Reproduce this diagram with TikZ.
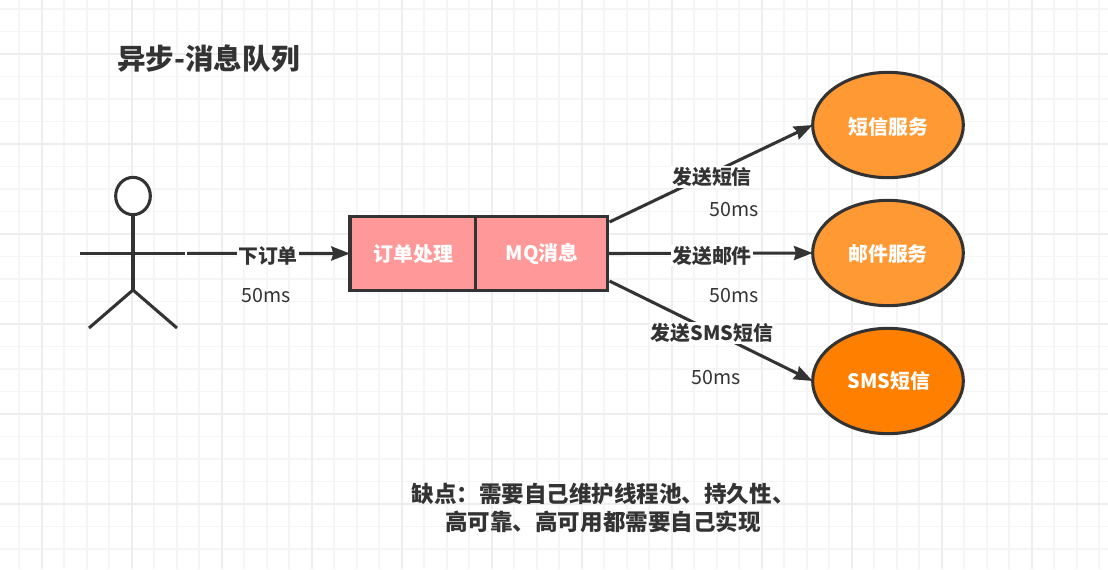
\documentclass[tikz,border=0pt]{standalone}
\usepackage{fontspec}
\setmainfont{Noto Sans CJK SC}
\usetikzlibrary{arrows.meta,shapes.geometric}
\definecolor{ink}{HTML}{333333}
\definecolor{gridminor}{HTML}{F5F5F5}
\definecolor{gridmajor}{HTML}{EEEEEE}
\definecolor{boxred}{HTML}{FF9999}
\definecolor{svcorange}{HTML}{FF9933}
\definecolor{smsorange}{HTML}{FF8000}
\tikzset{
  strokeline/.style={draw=ink,line width=2.3pt},
  flow/.style={strokeline,-{Stealth[length=14pt,width=10.5pt,inset=1.5pt]}},
  boxnode/.style={strokeline,rectangle,fill=boxred,outer sep=0pt,inner sep=0pt,minimum height=56pt,text=white,font=\fontsize{14.9pt}{17pt}\selectfont\bfseries},
  svc/.style={strokeline,ellipse,outer sep=0pt,inner sep=0pt,minimum width=113pt,minimum height=79pt,text=white,font=\fontsize{14.9pt}{17pt}\selectfont\bfseries},
  lab/.style={fill=white,text=ink,inner sep=1pt,font=\fontsize{14.9pt}{17pt}\selectfont\bfseries},
  lat/.style={text=ink,inner sep=0pt,font=\fontsize{14.7pt}{17pt}\selectfont},
  heading/.style={text=ink,inner sep=0pt,font=\fontsize{21.4pt}{25pt}\selectfont\bfseries},
  note/.style={text=ink,inner sep=0pt,align=center,font=\fontsize{16.9pt}{21pt}\selectfont\bfseries},
}
\begin{document}
\begin{tikzpicture}[x=0.75pt,y=-0.75pt]
\useasboundingbox (0,0) rectangle (1108,569);
\fill[white] (0,0) rectangle (1108,569);
% grid
\foreach \k in {0,...,49} {
  \draw[gridminor,line width=1.4pt] ({-3.3+22.5*\k},0) -- ({-3.3+22.5*\k},569);
}
\foreach \k in {0,...,25} {
  \draw[gridminor,line width=1.4pt] (0,{9+22.5*\k}) -- (1108,{9+22.5*\k});
}
\foreach \k in {0,...,12} {
  \draw[gridmajor,line width=1.4pt] ({41.7+90*\k},0) -- ({41.7+90*\k},569);
}
\foreach \k in {0,...,5} {
  \draw[gridmajor,line width=1.4pt] (0,{54+90*\k}) -- (1108,{54+90*\k});
}
% title
\node[heading] (title) at (208.5,59) {异步-消息队列};
% actor
\node[strokeline,fill=white,ellipse,outer sep=0pt,inner sep=0pt,minimum width=26pt,minimum height=28pt] (head) at (133,196) {};
\coordinate (hip) at (133,290);
\coordinate (armL) at (80,253.4);
\coordinate (armR) at (185,253.4);
\coordinate (legL) at (89,328);
\coordinate (legR) at (177,328);
\coordinate (actor) at (187,253.4);
\draw[strokeline] (head.south) -- (hip);
\draw[strokeline] (armL) -- (armR);
\draw[strokeline] (legL) -- (hip) -- (legR);
% boxes
\node[boxnode,minimum width=94.5pt] (order) at (413,253.5) {\hspace{0.7pt}订单处理};
\node[boxnode,minimum width=99pt,xshift=-0.5pt] (mq) at (542,253.5) {\hspace{1pt}MQ消息};
% services
\node[svc,fill=svcorange,text height=14pt,text depth=0pt] (sms) at (888,125) {\hspace{1pt}短信服务};
\node[svc,fill=svcorange,text height=12.5pt,text depth=0pt] (mail) at (888,253) {邮件服务};
\node[svc,fill=smsorange] (smsb) at (888,381) {\hspace{1pt}SMS短信};
% connectors
\coordinate (mqA) at (609.5,222);
\coordinate (mqC) at (609.5,281);
\draw[flow] (actor) -- (order.west);
\draw[flow] (mqA) -- (sms.west);
\draw[flow] (mq.east) ++(1.5,0) -- (mail.west);
\draw[flow] (mqC) -- (smsb.west);
% labels
\node[lab] (l0) at (268,255.5) {下订单};
\node[lab] (l1) at (712,177) {发送短信};
\node[lab] (l2) at (712,255.5) {发送邮件};
\node[lab] (l3) at (712,333) {发送SMS短信};
\node[lat] (t0) at (266.5,295.5) {50ms};
\node[lat] (t1) at (734.5,209.5) {50ms};
\node[lat] (t2) at (734.5,295.5) {50ms};
\node[lat] (t3) at (716.5,377.5) {50ms};
\node[note] (defect) at (603,507.5) {缺点：需要自己维护线程池、持久性、\\高可靠、高可用都需要自己实现};
\end{tikzpicture}
\end{document}
